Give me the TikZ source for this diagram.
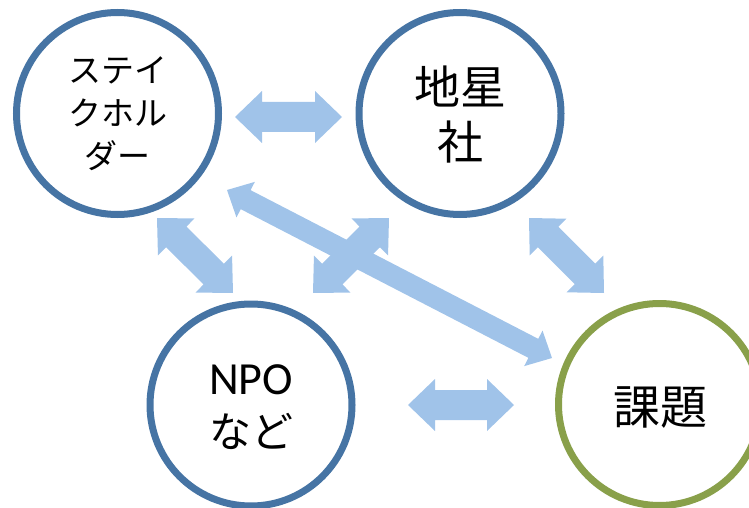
\documentclass[tikz,border=0pt]{standalone}
\usepackage{fontspec}
\newfontfamily\jp{Noto Sans CJK JP}
\newfontfamily\lat{Carlito}
\usetikzlibrary{calc}
\definecolor{ringblue}{HTML}{4674A4}
\definecolor{ringgreen}{HTML}{89A04A}
\definecolor{arrowblue}{HTML}{A0C3E9}
\tikzset{
  ring/.style={circle, draw=ringblue, line width=7pt, minimum size=202pt, inner sep=0pt, fill=white},
  greenring/.style={ring, draw=ringgreen},
  label/.style={align=center, inner sep=0pt, text=black}
}
\newcommand\blockarrow[5]{%
  \fill[arrowblue] (#1) -- ($(#1)!#5!(#2)!#4!90:(#2)$) -- ($(#1)!#5!(#2)!#3!90:(#2)$)
   -- ($(#2)!#5!(#1)!#3!-90:(#1)$) -- ($(#2)!#5!(#1)!#4!-90:(#1)$) -- (#2)
   -- ($(#2)!#5!(#1)!#4!90:(#1)$) -- ($(#2)!#5!(#1)!#3!90:(#1)$)
   -- ($(#1)!#5!(#2)!#3!-90:(#2)$) -- ($(#1)!#5!(#2)!#4!-90:(#2)$) -- cycle;}
\begin{document}
\begin{tikzpicture}[x=1pt, y=-1pt]
\useasboundingbox (0,0) rectangle (749,508);
\clip (0,0) rectangle (749,508);
% circles
\node[ring] (stake) at (117.5,113.5) {};
\node[ring] (chisei) at (460,113.5) {};
\node[ring] (npo) at (251,405) {};
\node[greenring] (kadai) at (659.5,404.5) {};
% labels
\node[label, font=\jp\fontsize{33}{43}\selectfont] at (117.5,114) {ステイ\\クホル\\ダー};
\node[label, font=\jp\fontsize{46}{55}\selectfont] at (460,115) {地星\\社};
\node[label, font=\fontsize{46}{53}\selectfont] at (251,407) {{\lat NPO}\\{\jp\fontsize{42}{53}\selectfont など}};
\node[label, font=\jp\fontsize{47}{55}\selectfont] at (660,408) {課題};
% arrow end points
\coordinate (a1) at (235,117); \coordinate (b1) at (342,117);
\coordinate (a2) at (408,405); \coordinate (b2) at (514,405);
\coordinate (a3) at (157,218); \coordinate (b3) at (233,293);
\coordinate (a4) at (313,293); \coordinate (b4) at (389,218);
\coordinate (a5) at (529,218); \coordinate (b5) at (604,293);
\coordinate (a6) at (227,190); \coordinate (b6) at (552,358);
\blockarrow{a1}{b1}{15pt}{26pt}{27pt}
\blockarrow{a2}{b2}{15pt}{26pt}{27pt}
\blockarrow{a3}{b3}{14.5pt}{26pt}{27pt}
\blockarrow{a4}{b4}{14.5pt}{26pt}{27pt}
\blockarrow{a5}{b5}{14.5pt}{26pt}{27pt}
\blockarrow{a6}{b6}{10.7pt}{20pt}{21pt}
\end{tikzpicture}
\end{document}
